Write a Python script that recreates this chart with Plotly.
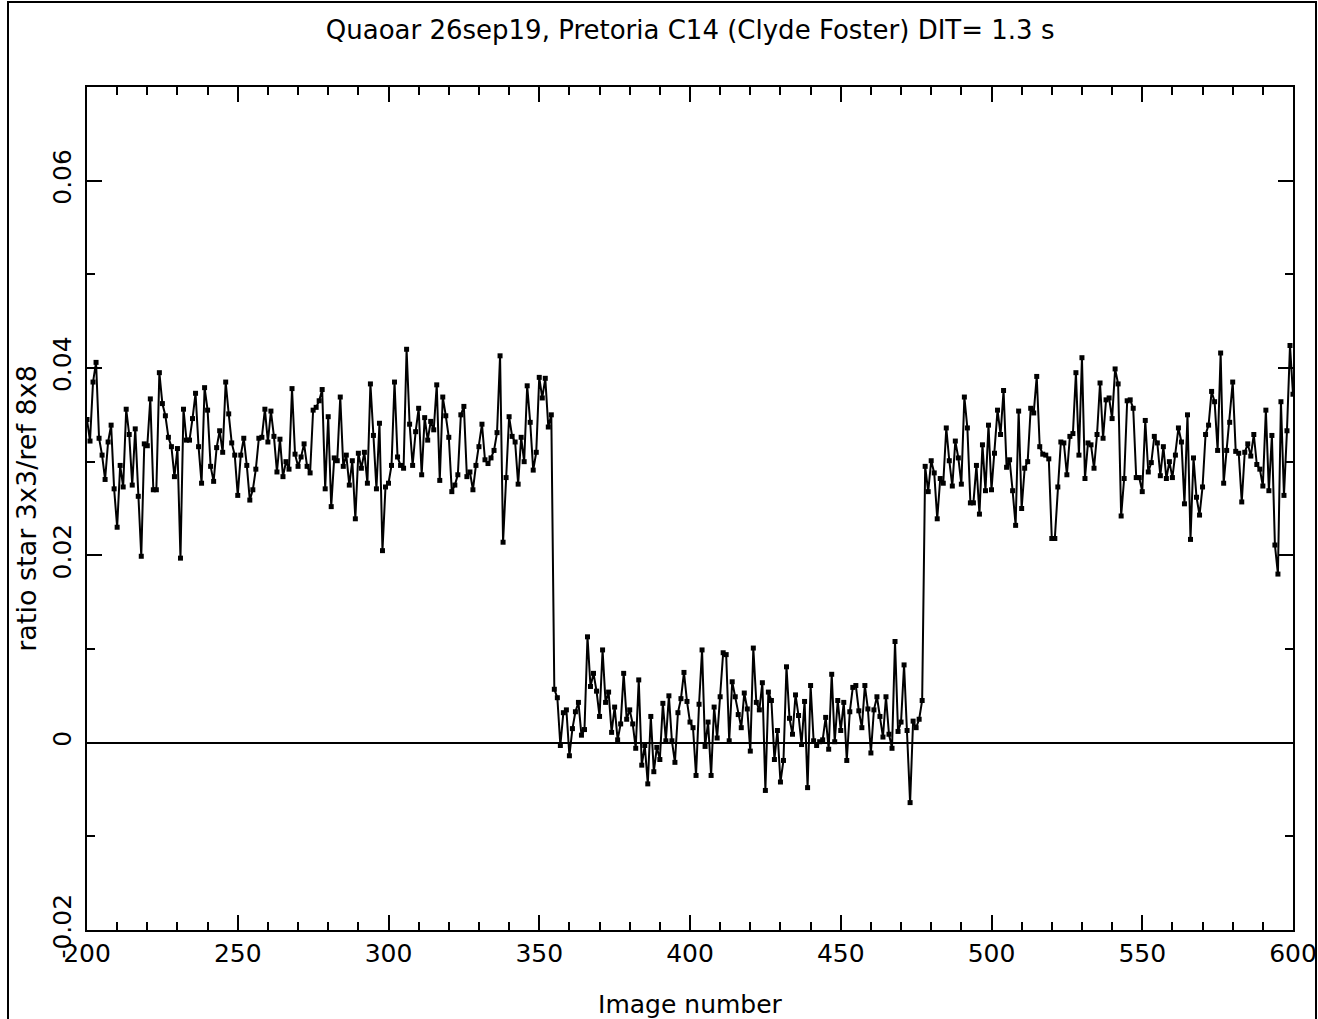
import plotly.graph_objects as go

image_first = 200

# ratio star 3x3 / ref 8x8, images 200-354 (before occultation)
ratio_before = [
    0.0345, 0.0322, 0.0385, 0.0406, 0.0325, 0.0307, 0.0281, 0.0321, 0.0339, 0.0271,
    0.0230, 0.0296, 0.0273, 0.0356, 0.0329, 0.0275, 0.0335, 0.0263, 0.0199, 0.0319,
    0.0317, 0.0367, 0.0270, 0.0270, 0.0395, 0.0362, 0.0349, 0.0326, 0.0316, 0.0284,
    0.0314, 0.0197, 0.0356, 0.0323, 0.0323, 0.0346, 0.0373, 0.0316, 0.0277, 0.0379,
    0.0355, 0.0295, 0.0279, 0.0315, 0.0333, 0.0310, 0.0385, 0.0351, 0.0320, 0.0307,
    0.0264, 0.0307, 0.0325, 0.0296, 0.0259, 0.0270, 0.0292, 0.0325, 0.0326, 0.0356,
    0.0321, 0.0354, 0.0327, 0.0289, 0.0324, 0.0284, 0.0300, 0.0292, 0.0378, 0.0308,
    0.0295, 0.0305, 0.0319, 0.0295, 0.0288, 0.0355, 0.0358, 0.0365, 0.0377, 0.0271,
    0.0348, 0.0252, 0.0304, 0.0301, 0.0369, 0.0295, 0.0307, 0.0275, 0.0301, 0.0239,
    0.0309, 0.0293, 0.0310, 0.0277, 0.0383, 0.0328, 0.0271, 0.0341, 0.0205, 0.0273,
    0.0277, 0.0296, 0.0385, 0.0305, 0.0296, 0.0293, 0.0420, 0.0340, 0.0296, 0.0332,
    0.0357, 0.0286, 0.0347, 0.0323, 0.0343, 0.0334, 0.0382, 0.0280, 0.0369, 0.0349,
    0.0326, 0.0268, 0.0275, 0.0286, 0.0350, 0.0359, 0.0284, 0.0289, 0.0270, 0.0296,
    0.0316, 0.0340, 0.0302, 0.0298, 0.0304, 0.0312, 0.0331, 0.0413, 0.0214, 0.0283,
    0.0348, 0.0327, 0.0321, 0.0276, 0.0326, 0.0300, 0.0381, 0.0342, 0.0291, 0.0310,
    0.0390, 0.0368, 0.0389, 0.0337, 0.0350,
]

# images 355-477 (during occultation)
ratio_during = [
    0.0057, 0.0048, -0.0003, 0.0032, 0.0035,
    -0.0014, 0.0015, 0.0033, 0.0043, 0.0008, 0.0014, 0.0113, 0.0060, 0.0074, 0.0055,
    0.0028, 0.0099, 0.0043, 0.0054, 0.0011, 0.0038, 0.0003, 0.0020, 0.0074, 0.0025,
    0.0035, 0.0020, -0.0006, 0.0067, -0.0024, -0.0003, -0.0044, 0.0028, -0.0031, -0.0005,
    -0.0018, 0.0042, 0.0002, 0.0050, 0.0002, -0.0021, 0.0032, 0.0047, 0.0075, 0.0044,
    0.0022, 0.0016, -0.0035, 0.0041, 0.0099, -0.0004, 0.0022, -0.0035, 0.0038, 0.0005,
    0.0049, 0.0096, 0.0094, 0.0002, 0.0065, 0.0049, 0.0030, 0.0016, 0.0053, 0.0036,
    -0.0009, 0.0101, 0.0043, 0.0035, 0.0064, -0.0051, 0.0054, 0.0045, -0.0018, 0.0013,
    -0.0042, -0.0019, 0.0081, 0.0026, 0.0009, 0.0051, 0.0029, -0.0002, 0.0044, -0.0048,
    0.0061, 0.0002, -0.0003, 0.0001, 0.0003, 0.0027, -0.0007, 0.0073, 0.0001, 0.0045,
    0.0013, 0.0043, -0.0019, 0.0033, 0.0059, 0.0061, 0.0034, 0.0016, 0.0061, 0.0036,
    -0.0011, 0.0035, 0.0049, 0.0028, 0.0006, 0.0049, 0.0009, -0.0006, 0.0108, 0.0012,
    0.0022, 0.0083, 0.0013, -0.0064, 0.0023, 0.0016, 0.0025, 0.0045,
]

# images 478-600 (after occultation)
ratio_after = [
    0.0295, 0.0268,
    0.0301, 0.0288, 0.0239, 0.0282, 0.0277, 0.0336, 0.0301, 0.0274, 0.0322, 0.0304,
    0.0276, 0.0369, 0.0336, 0.0256, 0.0256, 0.0296, 0.0244, 0.0318, 0.0269, 0.0339,
    0.0270, 0.0309, 0.0355, 0.0329, 0.0376, 0.0294, 0.0302, 0.0269, 0.0232, 0.0354,
    0.0250, 0.0293, 0.0300, 0.0357, 0.0352, 0.0391, 0.0316, 0.0308, 0.0307, 0.0303,
    0.0218, 0.0218, 0.0273, 0.0321, 0.0320, 0.0286, 0.0327, 0.0330, 0.0395, 0.0307,
    0.0411, 0.0282, 0.0320, 0.0318, 0.0293, 0.0329, 0.0384, 0.0325, 0.0366, 0.0368,
    0.0346, 0.0399, 0.0383, 0.0242, 0.0282, 0.0365, 0.0366, 0.0357, 0.0283, 0.0283,
    0.0268, 0.0344, 0.0289, 0.0299, 0.0327, 0.0320, 0.0285, 0.0316, 0.0282, 0.0300,
    0.0283, 0.0307, 0.0336, 0.0321, 0.0255, 0.0350, 0.0217, 0.0304, 0.0262, 0.0243,
    0.0273, 0.0329, 0.0339, 0.0375, 0.0364, 0.0312, 0.0416, 0.0277, 0.0312, 0.0342,
    0.0385, 0.0311, 0.0309, 0.0257, 0.0310, 0.0319, 0.0306, 0.0329, 0.0297, 0.0292,
    0.0274, 0.0355, 0.0269, 0.0328, 0.0211, 0.0180, 0.0364, 0.0264, 0.0333, 0.0424,
    0.0372,
]

ratio = ratio_before + ratio_during + ratio_after
images = list(range(image_first, image_first + len(ratio)))

x_tickvals = [200, 250, 300, 350, 400, 450, 500, 550, 600]
y_tickvals = [-0.02, 0, 0.02, 0.04, 0.06]
y_ticktext = ["-0.02", "0", "0.02", "0.04", "0.06"]

FONT = "DejaVu Sans"

fig = go.Figure(
    go.Scatter(
        x=images,
        y=ratio,
        mode="lines+markers",
        line=dict(color="black", width=2),
        marker=dict(symbol="square", size=5, color="black"),
        showlegend=False,
    )
)

axis_common = dict(
    showline=True,
    linecolor="black",
    linewidth=2,
    mirror="ticks",
    ticks="inside",
    tickcolor="black",
    tickwidth=2,
    ticklen=15,
    showgrid=False,
    automargin=False,
    tickfont=dict(family=FONT, size=25, color="black"),
)

fig.update_xaxes(
    **axis_common,
    range=[200, 600],
    tickvals=x_tickvals,
    zeroline=False,
    minor=dict(dtick=10, tick0=200, ticks="inside", ticklen=8, tickwidth=2, tickcolor="black"),
    title=dict(text="Image number", font=dict(family=FONT, size=25, color="black"), standoff=38),
)

fig.update_yaxes(
    **axis_common,
    range=[-0.02, 0.07],
    tickvals=y_tickvals,
    ticktext=y_ticktext,
    tickangle=-90,
    ticklabelstandoff=4,
    zeroline=True,
    zerolinecolor="black",
    zerolinewidth=2,
    minor=dict(dtick=0.01, tick0=0, ticks="inside", ticklen=8, tickwidth=2, tickcolor="black"),
    title=dict(text="ratio star 3x3/ref 8x8", font=dict(family=FONT, size=27, color="black"), standoff=4),
)

fig.update_layout(
    width=1318,
    height=1019,
    margin=dict(l=87, r=25, t=87, b=89),
    paper_bgcolor="white",
    plot_bgcolor="white",
    title=dict(
        text="Quaoar 26sep19, Pretoria C14 (Clyde Foster) DIT= 1.3 s",
        font=dict(family=FONT, size=26, color="black"),
        x=0.5236,
        xanchor="center",
        y=1 - 30 / 1019,
        yanchor="middle",
        yref="container",
    ),
    shapes=[
        dict(
            type="rect",
            xref="paper",
            yref="paper",
            x0=(8 - 87) / 1206,
            x1=(1316 - 87) / 1206,
            y0=(930 - 1040) / 843,
            y1=(930 - 2) / 843,
            line=dict(color="black", width=2),
            fillcolor="rgba(0,0,0,0)",
            layer="above",
        )
    ],
)

fig.write_html("out.html")
